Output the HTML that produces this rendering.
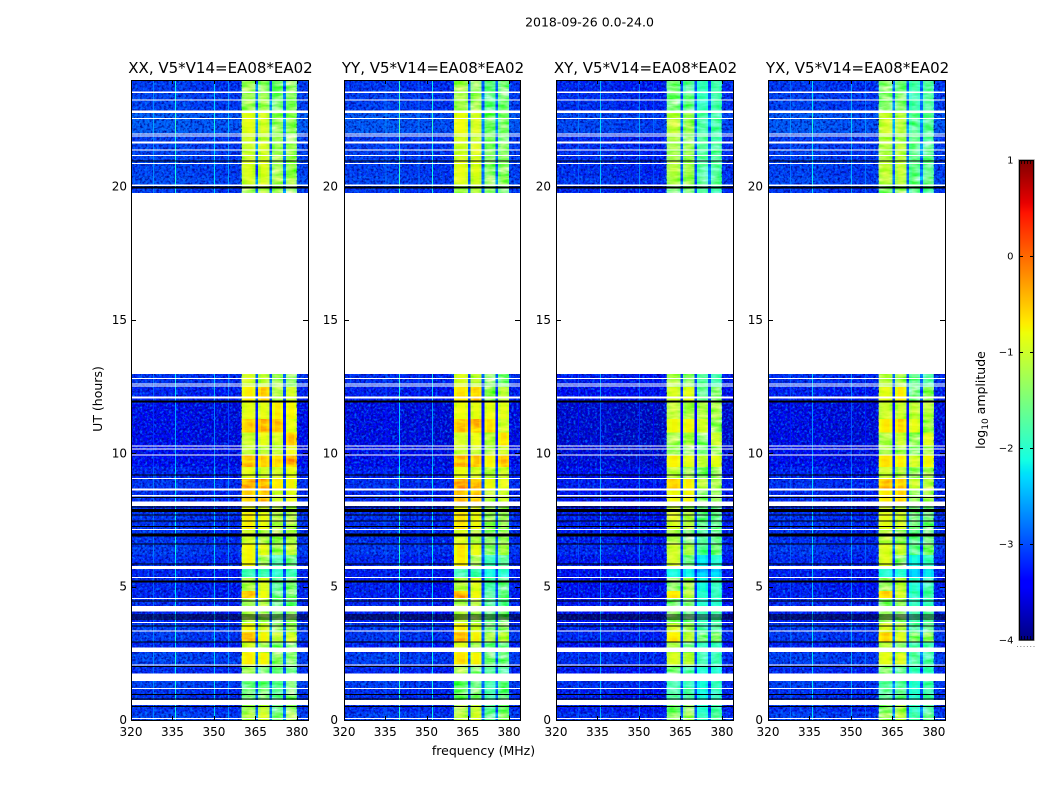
<!DOCTYPE html>
<html><head><meta charset="utf-8"><title>2018-09-26 amplitude waterfall</title>
<style>
html,body{margin:0;padding:0;background:#fff;width:1050px;height:800px;overflow:hidden}
svg{display:block}
text{font-family:"DejaVu Sans","Liberation Sans",sans-serif;fill:#000}
</style></head>
<body>
<svg id="chart" xmlns="http://www.w3.org/2000/svg" width="1050" height="800" viewBox="0 0 1050 800">
<defs>
<filter id="speckle-light" x="0" y="0" width="100%" height="100%" color-interpolation-filters="sRGB">
<feTurbulence type="fractalNoise" baseFrequency="0.42" numOctaves="2" seed="4"/>
<feColorMatrix type="matrix" values="0 0 0 0 0  0 0 0 0 .5  0 0 0 0 1  2.4 0 0 0 -1.05"/>
</filter>
<filter id="speckle-dark" x="0" y="0" width="100%" height="100%" color-interpolation-filters="sRGB">
<feTurbulence type="fractalNoise" baseFrequency="0.42" numOctaves="2" seed="9"/>
<feColorMatrix type="matrix" values="0 0 0 0 0  0 0 0 0 0  0 0 0 0 .55  0 2.4 0 0 -1.05"/>
</filter>
<filter id="band-mottle" x="0" y="0" width="100%" height="100%" color-interpolation-filters="sRGB">
<feTurbulence type="fractalNoise" baseFrequency="0.06 0.22" numOctaves="3" seed="12"/>
<feColorMatrix type="matrix" values="1.2 0 0 0 -0.1 1.2 0 0 0 -0.1 1.2 0 0 0 -0.1 0 0 0 0 1"/>
</filter>
</defs>
<text x="589.5" y="26.5" font-size="12.5" text-anchor="middle">2018-09-26 0.0-24.0</text>
<text x="483.5" y="755" font-size="12.5" text-anchor="middle">frequency (MHz)</text>
<text x="0" y="0" font-size="12.5" text-anchor="middle" transform="translate(102,399) rotate(-90)">UT (hours)</text>
<text x="0" y="0" font-size="12.5" text-anchor="middle" transform="translate(985,400) rotate(-90)">log<tspan font-size="9" dy="3">10</tspan><tspan dy="-3"> amplitude</tspan></text>

<g>
  <rect x="1018.5" y="159.5" width="16" height="481" fill="none" stroke="#c8c8c8" stroke-width="1"/>
  <g id="colorbar-steps" shape-rendering="crispEdges"></g>
  <rect x="1019.5" y="160.5" width="14" height="479.5" fill="none" stroke="#000" stroke-width="1.2"/>
  <g stroke="#000" stroke-width="1" fill="none">
    <path d="M1019 256.500h4M1034 256.500h-4M1019 352.500h4M1034 352.500h-4M1019 448.500h4M1034 448.500h-4M1019 544.500h4M1034 544.500h-4"/>
    <path d="M1021.500 160v4M1024.500 160v4M1027.500 160v4M1030.500 160v4M1021.500 640v-4M1024.500 640v-4M1027.500 640v-4M1030.500 640v-4" stroke-width=".8"/>
  </g>
  <line x1="1017" x2="1035" y1="646.500" y2="646.500" stroke="#888" stroke-width="1" stroke-dasharray="1 2.300"/>
  <text x="1013.500" y="163.500" font-size="10" text-anchor="end">1</text>
  <text x="1013.500" y="259.500" font-size="10" text-anchor="end">0</text>
  <text x="1013.500" y="355.500" font-size="10" text-anchor="end">−1</text>
  <text x="1013.500" y="451.500" font-size="10" text-anchor="end">−2</text>
  <text x="1013.500" y="547.500" font-size="10" text-anchor="end">−3</text>
  <text x="1013.500" y="643.500" font-size="10" text-anchor="end">−4</text>
</g>
</svg>
<script>
// ---- data ----
const panelNames = ['XX, V5*V14=EA08*EA02','YY, V5*V14=EA08*EA02','XY, V5*V14=EA08*EA02','YX, V5*V14=EA08*EA02'];
const panelBaseOffset = [0,-0.04,-0.14,-0.03];
const panelBandOffset = [[0,0,0,0],[0.05,0.02,-0.12,-0.12],[-0.22,-0.3,-0.45,-0.45],[-0.15,-0.15,-0.35,-0.35]];
const freqTicks = [320,335,350,365,380];
const utTicks = [0,5,10,15,20];
// narrow interference lines per panel (MHz and level above background)
const rfiFreqXX = [328,335.9,350,355];
const rfiLiftXX = [.4,1.0,.8,.5];
const rfiFreqYY = [335,340,347,352];
const rfiLiftYY = [.3,1.2,.3,1.0];
const rfiFreqXY = [328,335.9,350,355];
const rfiLiftXY = [.3,.8,.5,.2];
const rfiFreqYX = [328,335.9,350,355];
const rfiLiftYX = [.3,.9,.6,.3];
// per-channel (1 MHz) shape, 320..383 MHz
const channelShape = [.05,.05,.05,.1,.05,.1,.05,.05,.1,.05,.05,.1,.05,.05,.1,.05,.1,.05,.05,.1,.05,.05,0,0,.05,0,.05,0,0,.05,0,0,0,-.05,0,.05,0,-.05,0,.05,
 -.05,.02,.05,.05,-.05,0,-.08,.05,.05,-.05,0,-.05,.05,.05,-.05,0,-.05,.05,.05,-.05,.1,.05,.05,.05];
// sub-band index per channel: -1 = background, -2 = notch between sub-bands
const channelBand = [-1,-1,-1,-1,-1,-1,-1,-1,-1,-1,-1,-1,-1,-1,-1,-1,-1,-1,-1,-1,-1,-1,-1,-1,-1,-1,-1,-1,-1,-1,-1,-1,-1,-1,-1,-1,-1,-1,-1,-1,
 0,0,0,0,0,-2,1,1,1,1,-2,2,2,2,2,-2,3,3,3,3,-1,-1,-1,-1];
// UT start, UT end, background level, four sub-band levels (log10 amplitude)
const segStart = [0,.3,.6,1.2,1.75,2.1,2.55,2.92,3.3,3.64,4.27,4.58,4.85,5.37,5.78,6.2,6.6,7.17,7.8,8.19,8.69,9.08,9.5,9.95,10.3,10.8,11.3,12,12.5,19.77,20.05,20.4,21,21.7,22,22.8,23.5];
const segEnd = [.3,.6,1.2,1.75,2.1,2.55,2.92,3.3,3.64,4.27,4.58,4.85,5.37,5.78,6.2,6.6,7.17,7.8,8.19,8.69,9.08,9.5,9.95,10.3,10.8,11.3,12,12.5,12.97,20.05,20.4,21,21.7,22,22.8,23.5,24];
const segBase = [-3.1,-3.2,-3.2,-3.1,-3.25,-3.1,-3.3,-3.15,-3.15,-3.3,-3.25,-3.3,-3.3,-3.3,-3.25,-3.15,-3.2,-3.2,-3.25,-3.25,-3.2,-3.3,-3.5,-3.5,-3.55,-3.55,-3.55,-3.3,-3.2,-3.15,-3.05,-3.1,-3.1,-3.15,-2.95,-3.1,-3.15];
const segBand0 = [-1.2,-1.3,-1.55,-1.6,-1.3,-.75,-1,-.5,-.8,-1.2,-1.3,-.5,-1.2,-1.9,-.8,-.8,-1,-.75,-.9,-.6,-.4,-.9,-.55,-1.1,-1.05,-.6,-.9,-.75,-1,-1.3,-1,-.95,-1.05,-1,-.9,-1.3,-1.3];
const segBand1 = [-1,-1.1,-1.5,-1.6,-1.5,-.8,-1.3,-.8,-1,-1.3,-1.2,-.85,-.95,-1.9,-1.3,-.9,-1.2,-.85,-1,-.5,-.45,-1,-.6,-1.1,-.9,-.5,-.9,-.6,-1.1,-1.2,-1,-.95,-1,-1.1,-1,-1.3,-1.4];
const segBand2 = [-1.5,-1.6,-1.7,-1.7,-1.6,-1.4,-1.5,-1.1,-1.4,-1.5,-1.6,-1.6,-1.7,-2,-1.8,-1.3,-1.3,-1.2,-1.2,-1,-.7,-1,-.65,-1.1,-1,-.55,-.75,-1.2,-1.3,-1.3,-1.25,-1.3,-1.3,-1.3,-1.35,-1.5,-1.5];
const segBand3 = [-1.3,-1.4,-1.5,-1.5,-1.6,-1.45,-1.5,-1,-1.3,-1.4,-1.6,-1.5,-1.5,-1.9,-1.6,-1.1,-1.2,-1.2,-1.2,-.9,-.8,-.9,-.45,-.9,-.6,-.9,-.8,-1,-1.4,-1.4,-1.25,-1.3,-1.3,-1.4,-1.35,-1.4,-1.4];
// flagged (empty) time ranges
const gapStart = [.04,.56,1.16,1.47,2.05,2.55,3.32,3.64,4.07,4.54,5.33,5.66,7.13,8.03,8.39,8.61,9.04,9.91,10.14,10.25,12.05,12.5,12.58,12.79,12.97,20.03,20.85,21.15,21.35,21.62,21.88,21.96,22.54,22.76,23.23,23.52];
const gapEnd = [.08,.75,1.2,1.75,2.09,2.72,3.36,3.68,4.27,4.58,5.37,5.78,7.17,8.19,8.43,8.69,9.08,9.95,10.18,10.29,12.13,12.54,12.62,12.83,19.77,20.08,20.89,21.19,21.39,21.7,21.92,22,22.58,22.86,23.27,23.56];
// zero-amplitude (black) time ranges
const zeroStart = [.48,.77,.94,1.98,2.9,3.5,3.77,3.85,3.92,4.45,5.15,5.2,5.83,6.58,6.88,7.23,7.45,7.67,7.8,7.96,8.32,9.17,11.9,19.93,20.94];
const zeroEnd = [.52,.81,.98,2.02,2.94,3.54,3.81,3.89,3.96,4.49,5.19,5.24,5.87,6.62,7,7.27,7.49,7.71,7.92,8,8.36,9.21,11.98,20,20.98];

// ---- scales ----
const SVGNS = 'http://www.w3.org/2000/svg';
const chartRoot = document.getElementById('chart');
const panelLeft = [131,344,556,768];
const panelRight = [308,520,733,945];
const labelGap = [4,6,5,5];
const plotTop = 80, plotBottom = 720;
const freqMin = 320, freqMax = 384, utMin = 0, utMax = 24;
const rfiFreqs = [rfiFreqXX, rfiFreqYY, rfiFreqXY, rfiFreqYX];
const rfiLifts = [rfiLiftXX, rfiLiftYY, rfiLiftXY, rfiLiftYX];
function xScale(mhz, p){ return panelLeft[p] + (mhz - freqMin) / (freqMax - freqMin) * (panelRight[p] - panelLeft[p]); }
function yScale(ut){ return plotBottom - (ut - utMin) / (utMax - utMin) * (plotBottom - plotTop); }
function lerp(stops, t){
  for (let i = 1; i < stops.length; i++) {
    if (t <= stops[i][0]) {
      const a = stops[i-1], b = stops[i];
      return a[1] + (b[1]-a[1]) * (t-a[0]) / (b[0]-a[0]);
    }
  }
  return stops[stops.length-1][1];
}
const jetR = [[0,0],[.35,0],[.66,1],[.89,1],[1,.5]];
const jetG = [[0,0],[.125,0],[.375,1],[.64,1],[.91,0],[1,0]];
const jetB = [[0,.5],[.11,1],[.34,1],[.65,0],[1,0]];
function colorOf(v){
  const t = Math.max(0, Math.min(1, (v + 4) / 5));
  return 'rgb(' + Math.round(255*lerp(jetR,t)) + ',' + Math.round(255*lerp(jetG,t)) + ',' + Math.round(255*lerp(jetB,t)) + ')';
}
function mk(tag, attrs, parent){
  const el = document.createElementNS(SVGNS, tag);
  for (const k in attrs) el.setAttribute(k, attrs[k]);
  parent.appendChild(el);
  return el;
}
const bandLevels = [segBand0, segBand1, segBand2, segBand3];

// ---- panels ----
panelNames.forEach(function(name, p){
  const g = mk('g', {}, chartRoot);
  
  
  const L = panelLeft[p], R = panelRight[p], W = R - L;

  const cells = mk('g', {'shape-rendering':'crispEdges'}, g);
  
  
  segStart.forEach(function(s, i){
    const y0 = yScale(segEnd[i]), y1 = yScale(s);
    channelShape.forEach(function(shape, k){
      const band = channelBand[k];
      let v;
      if (band >= 0) v = bandLevels[band][i] + panelBandOffset[p][band] + shape;
      else if (band === -2) v = segBase[i] + panelBaseOffset[p] + 0.3;
      else v = segBase[i] + panelBaseOffset[p] + shape;
      const x0 = xScale(freqMin + k, p), x1 = xScale(freqMin + k + 1, p);
      const c = mk('rect', {x:x0.toFixed(2), y:y0.toFixed(2), width:(x1-x0+.4).toFixed(2), height:(y1-y0+.4).toFixed(2), fill:colorOf(v)}, cells);
      
      
    });
  });

  [[freqMin,360],[380,freqMax]].forEach(function(range){
    const nx = xScale(range[0], p);
    const lightNoise = mk('rect', {x:nx, y:plotTop, width:xScale(range[1], p)-nx, height:plotBottom-plotTop, filter:'url(#speckle-light)'}, g);
    
    
    const darkNoise = mk('rect', {x:nx, y:plotTop, width:xScale(range[1], p)-nx, height:plotBottom-plotTop, filter:'url(#speckle-dark)'}, g);
    
    
  });
  const bandX = xScale(360, p);
  const mottle = mk('rect', {x:bandX, y:plotTop, width:xScale(380, p)-bandX, height:plotBottom-plotTop, filter:'url(#band-mottle)', style:'mix-blend-mode:overlay'}, g);
  
  

  const over = mk('g', {'shape-rendering':'crispEdges'}, g);
  
  
  rfiFreqs[p].forEach(function(f, j){
    segStart.forEach(function(s, i){
      const y0 = yScale(segEnd[i]), y1 = yScale(s);
      const c = mk('rect', {x:xScale(f, p).toFixed(2), y:y0.toFixed(2), width:1, height:(y1-y0+.4).toFixed(2), fill:colorOf(segBase[i] + panelBaseOffset[p] + rfiLifts[p][j])}, over);
      
      
    });
  });
  gapStart.forEach(function(s, i){
    const y0 = yScale(gapEnd[i]), y1 = yScale(s);
    const c = mk('rect', {x:L, y:y0.toFixed(2), width:W, height:Math.max(1, y1-y0).toFixed(2), fill:'#fff'}, over);
    
    
  });
  zeroStart.forEach(function(s, i){
    const y0 = yScale(zeroEnd[i]), y1 = yScale(s);
    const c = mk('rect', {x:L, y:y0.toFixed(2), width:W, height:Math.max(1, y1-y0).toFixed(2), fill:'#000'}, over);
    
    
  });

  const frame = mk('rect', {x:L+.5, y:plotTop+.5, width:W, height:plotBottom-plotTop, fill:'none', stroke:'#000', 'stroke-width':1, 'shape-rendering':'crispEdges'}, g);
  
  

  const title = mk('text', {x:L + W/2 + 1, y:73, 'font-size':15, 'text-anchor':'middle'}, g);
  title.textContent = name;
  
  

  freqTicks.forEach(function(f){
    const x = Math.round(xScale(f, p)) + .5;
    const t1 = mk('line', {x1:x, x2:x, y1:plotBottom, y2:plotBottom-4, stroke:'#000'}, g);
    
    
    const t2 = mk('line', {x1:x, x2:x, y1:plotTop, y2:plotTop+4, stroke:'#000'}, g);
    
    
    const lab = mk('text', {x:xScale(f, p), y:736, 'font-size':12, 'text-anchor':'middle'}, g);
    lab.textContent = f;
    
    
  });
  utTicks.forEach(function(u){
    const y = Math.round(yScale(u)) + .5;
    const t1 = mk('line', {x1:L, x2:L+5, y1:y, y2:y, stroke:'#000'}, g);
    
    
    const t2 = mk('line', {x1:R, x2:R-5, y1:y, y2:y, stroke:'#000'}, g);
    
    
    const lab = mk('text', {x:L-labelGap[p], y:yScale(u)+4, 'font-size':12, 'text-anchor':'end'}, g);
    lab.textContent = u;
    
    
  });
});

// ---- colorbar gradient ----
const barSteps = document.getElementById('colorbar-steps');
for (let py = 160; py < 640; py++) {
  const level = -4 + (640 - py - .5) / 480 * 5;
  const step = mk('rect', {x:1019, y:py, width:15, height:1.2, fill:colorOf(level)}, barSteps);
  
  
}
</script>
</body></html>
